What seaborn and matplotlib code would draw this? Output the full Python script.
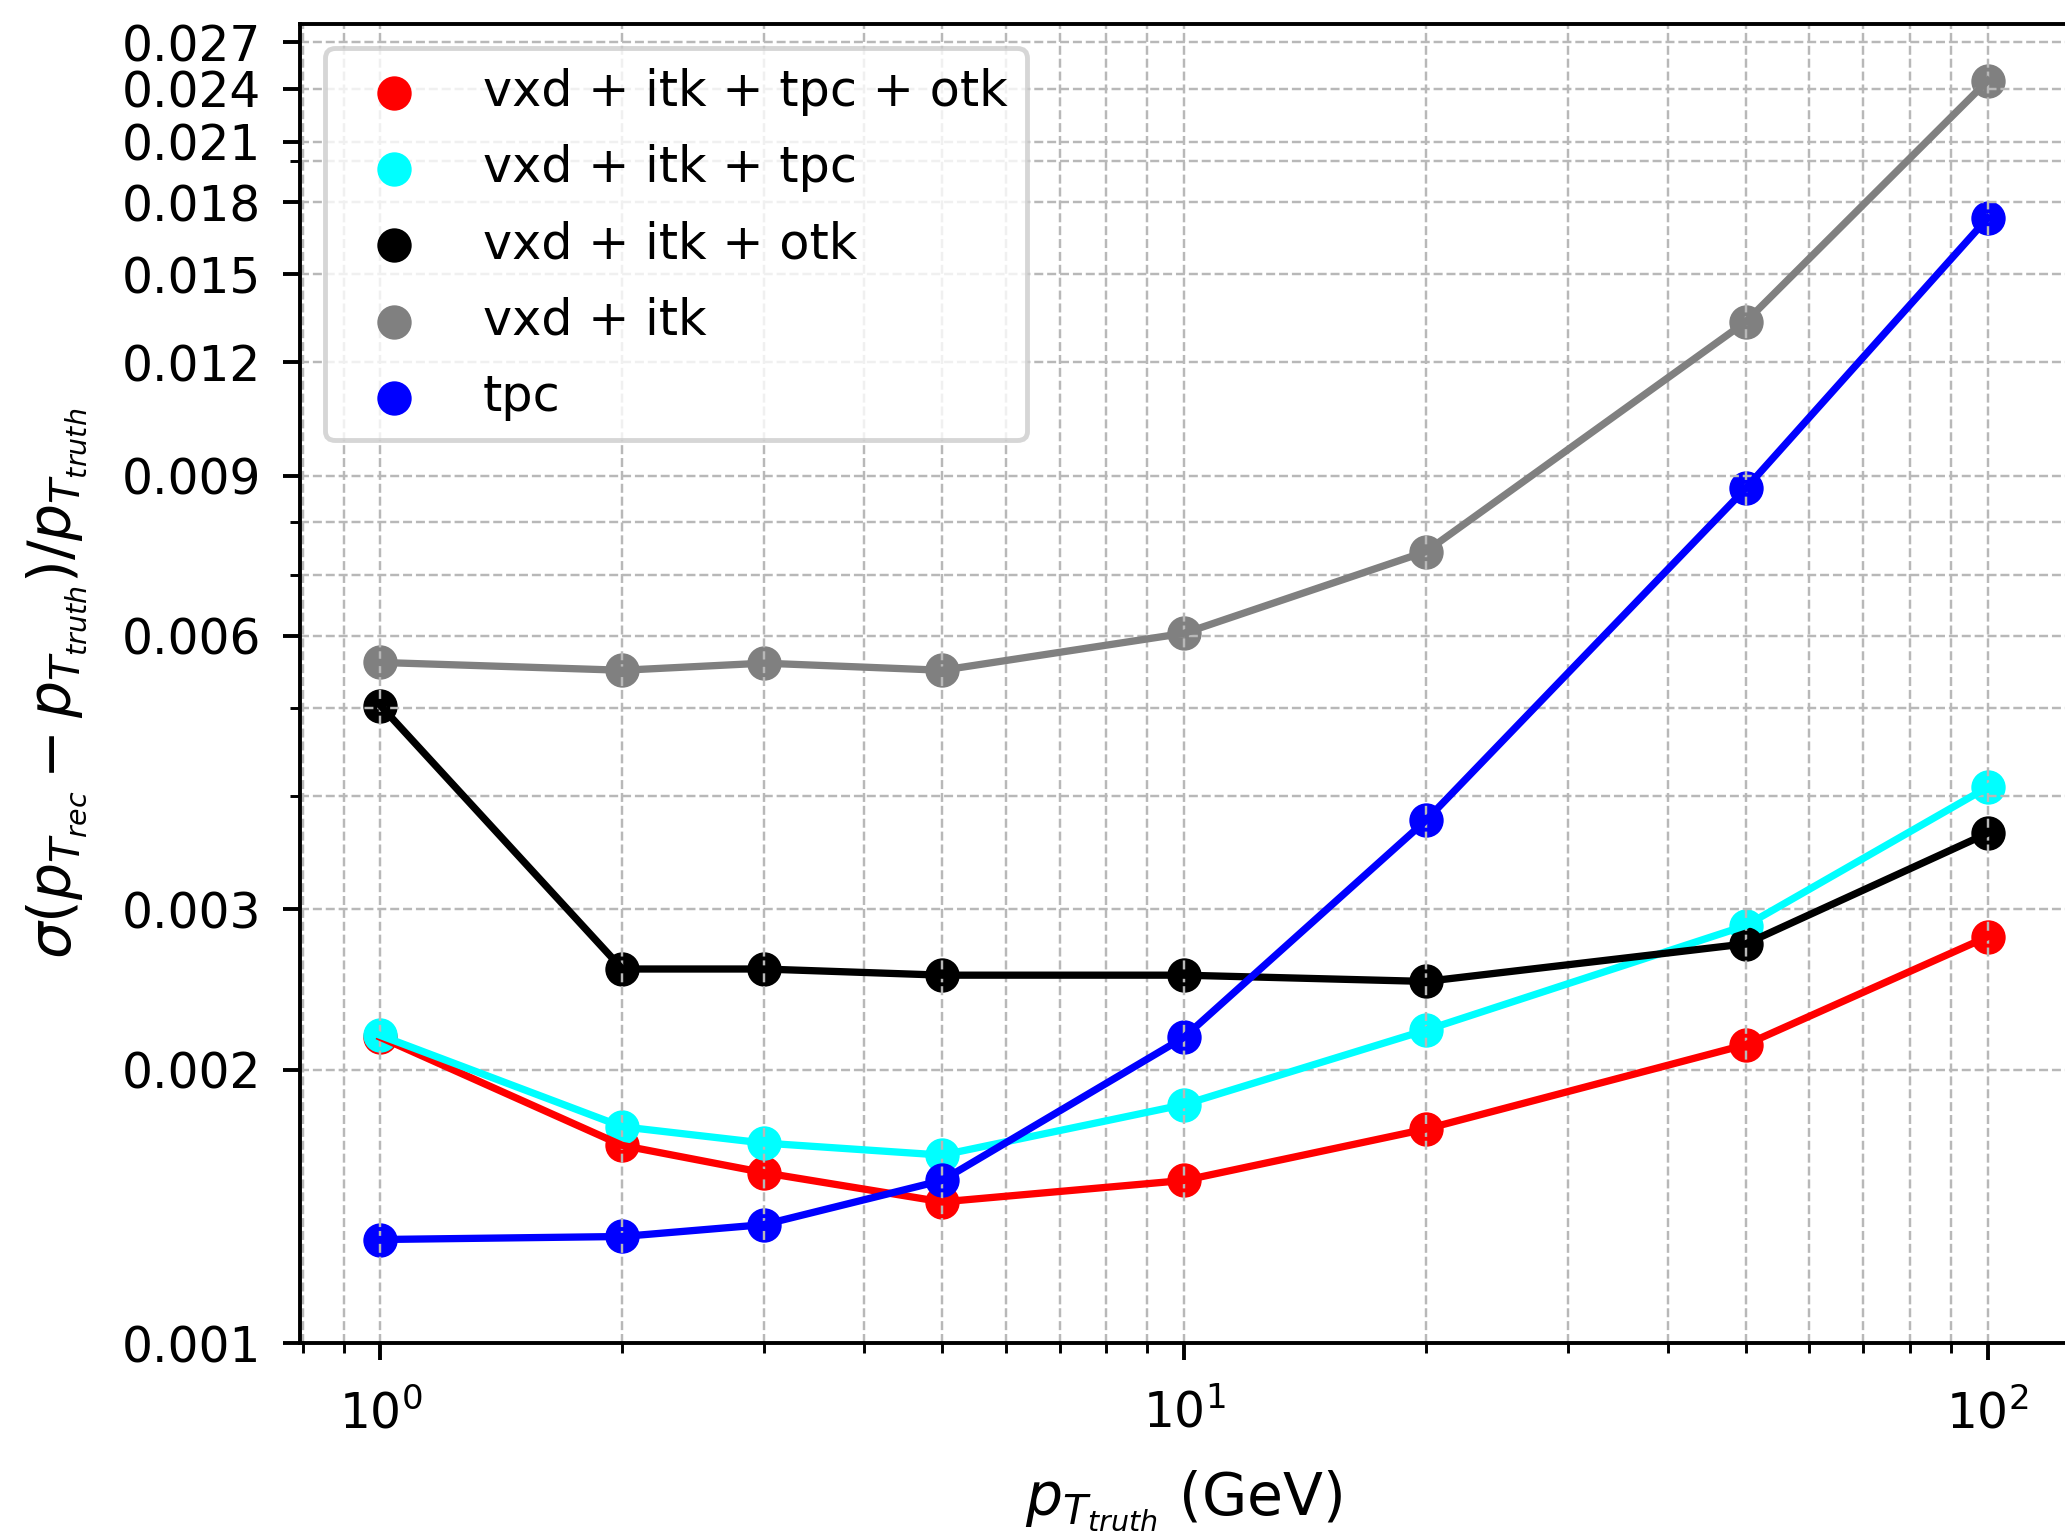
import numpy as np
import matplotlib
matplotlib.use("Agg")
import matplotlib.pyplot as plt
import matplotlib.ticker as mticker
import seaborn as sns

# transverse momentum points (GeV)
pt_truth = [1, 2, 3, 5, 10, 20, 50, 100]

# relative pT resolution per detector configuration
res_all = [0.00217, 0.00165, 0.00154, 0.00143, 0.00151, 0.00172, 0.00213, 0.00280]
res_no_otk = [0.00218, 0.00173, 0.00166, 0.00161, 0.00183, 0.00221, 0.00288, 0.00409]
res_no_tpc = [0.00503, 0.00258, 0.00258, 0.00254, 0.00254, 0.00250, 0.00275, 0.00364]
res_vxd_itk = [0.00561, 0.00550, 0.00560, 0.00550, 0.00604, 0.00743, 0.01330, 0.02450]
res_tpc = [0.00130, 0.00131, 0.00135, 0.00151, 0.00217, 0.00376, 0.00872, 0.01730]

labels = ["vxd + itk + tpc + otk", "vxd + itk + tpc", "vxd + itk + otk", "vxd + itk", "tpc"]
colors = ["red", "cyan", "black", "grey", "blue"]
series = [res_all, res_no_otk, res_no_tpc, res_vxd_itk, res_tpc]

y_ticks = [0.001, 0.002, 0.003, 0.006, 0.009, 0.012, 0.015, 0.018, 0.021, 0.024, 0.027]

fig = plt.figure(figsize=(5.9, 4.38), dpi=350)
ax = fig.add_axes([0.1453, 0.1239, 0.8562, 0.8606])

for vals, lab, col in zip(series, labels, colors):
    sns.lineplot(x=pt_truth, y=vals, color=col, lw=1.5, ax=ax)
    sns.scatterplot(x=pt_truth, y=vals, color=col, label=lab, s=50, linewidth=0, ax=ax)

ax.set_xscale("log")
ax.set_yscale("log")
ax.set_xlim(10 ** -0.1, 10 ** 2.1)
ax.set_ylim(0.001, 0.0283)

ax.set_yticks(y_ticks)
ax.set_yticklabels([f"{t:.3f}" for t in y_ticks])
ax.yaxis.set_minor_formatter(mticker.NullFormatter())
ax.tick_params(axis="x", which="major", pad=6)
ax.tick_params(axis="y", which="major", pad=4.5)

ax.grid(True, which="both", ls="--", lw=0.5, color="0.72")

ax.set_xlabel(r"$p_{T_{truth}}$ (GeV)", fontsize=12)
ax.set_ylabel(r"$\sigma(p_{T_{rec}} - p_{T_{truth}})/p_{T_{truth}}$", fontsize=12)
ax.xaxis.set_label_coords(0.5, -0.0947)
ax.yaxis.set_label_coords(-0.1193, 0.5)

ax.legend(loc="upper left", fontsize=10.15, labelspacing=0.57)

fig.savefig("out.png", dpi=350)
